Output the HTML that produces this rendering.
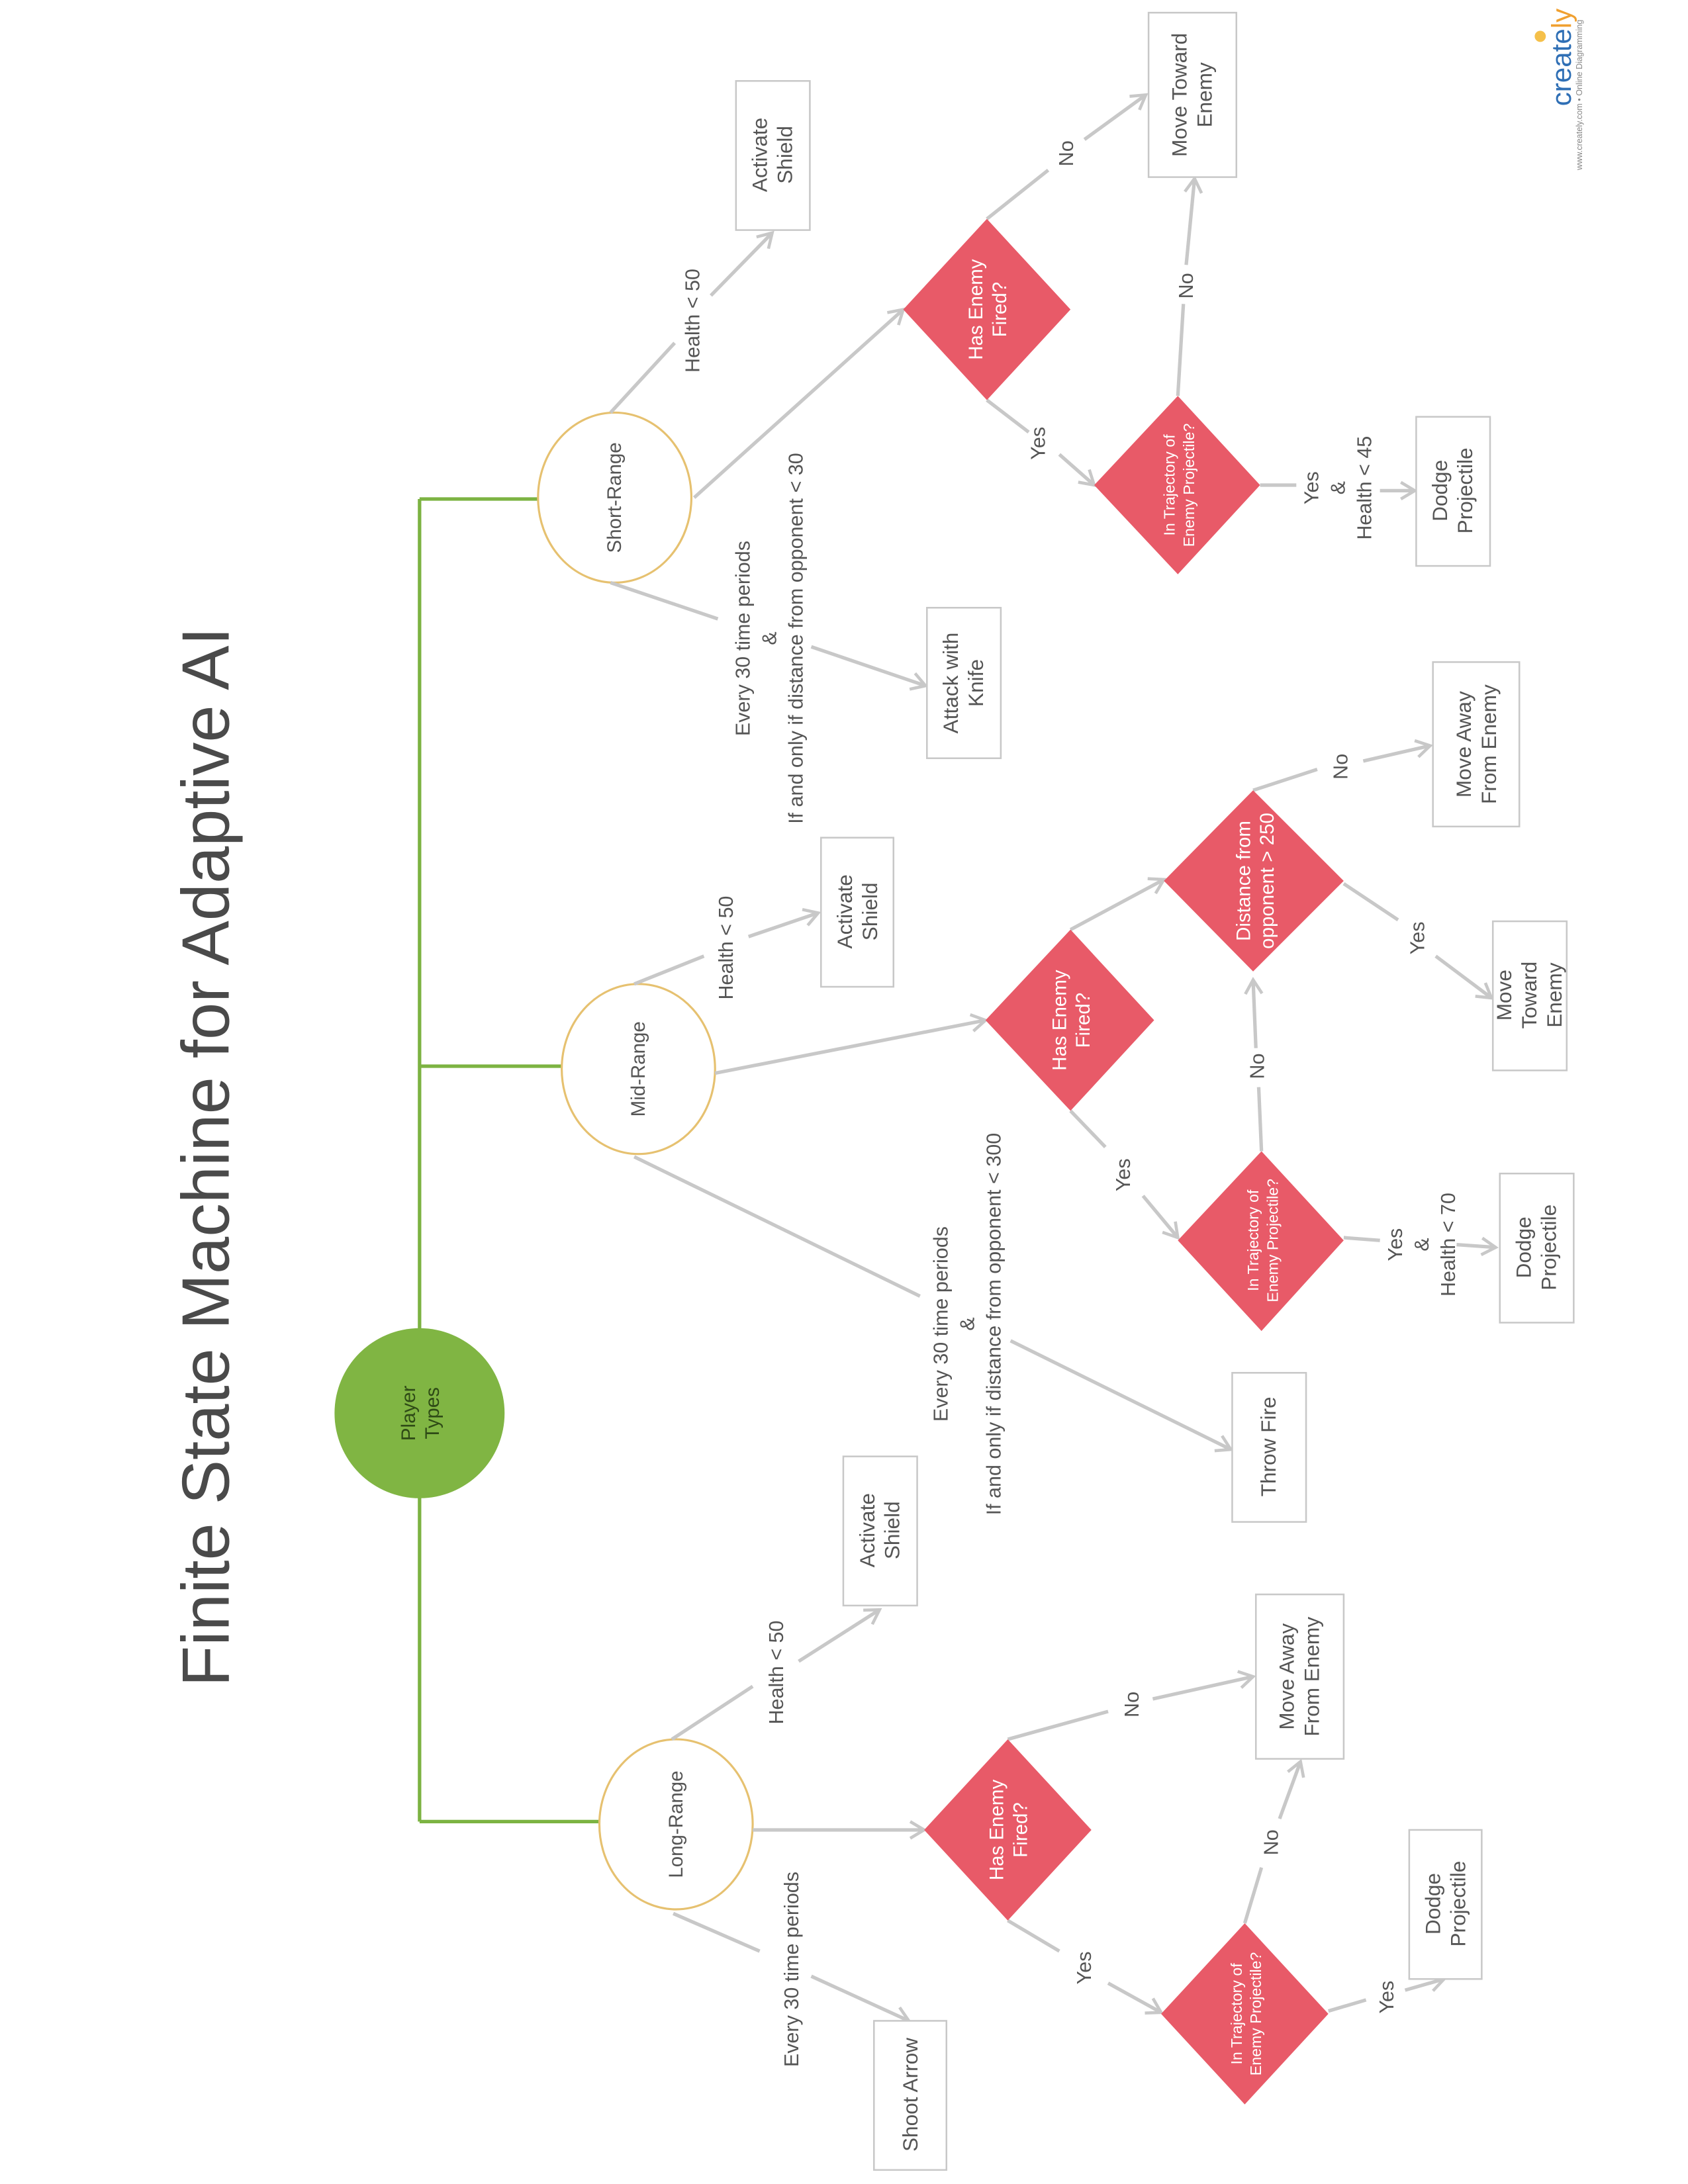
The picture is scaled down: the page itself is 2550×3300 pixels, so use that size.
<!DOCTYPE html>
<html><head><meta charset="utf-8"><style>
html,body{margin:0;padding:0;background:#fff}
svg{display:block}
text{font-family:"Liberation Sans",sans-serif}
</style></head><body>
<svg width="2550" height="3300" viewBox="0 0 1211 1567" xmlns="http://www.w3.org/2000/svg">
<defs>
<marker id="a" markerWidth="16" markerHeight="16" refX="12" refY="8" orient="auto" markerUnits="userSpaceOnUse">
<path d="M2,2 L12,8 L2,14" fill="none" stroke="#c8c8c8" stroke-width="2.2"/>
</marker>
</defs>
<rect width="1211" height="1567" fill="#fff"/>

<text transform="translate(148,830) rotate(-90)" text-anchor="middle" dominant-baseline="central" font-size="48" fill="#4a4a4a">Finite State Machine for Adaptive AI</text>

<text transform="translate(1120,41) rotate(-90)" text-anchor="middle" dominant-baseline="central" font-size="20" fill="#2f6fb5">create<tspan fill="#f0a030">ly</tspan></text>
<circle cx="1105" cy="26" r="4" fill="#f5c04a"/>
<text transform="translate(1133,68) rotate(-90)" text-anchor="middle" dominant-baseline="central" font-size="6" fill="#888">www.creately.com • Online Diagramming</text>

<g stroke="#7cb342" stroke-width="2.5" fill="none">
<path d="M301,358 L301,1307"/>
<path d="M301,358 L387,358"/>
<path d="M301,765 L403,765"/>
<path d="M301,1307 L430,1307"/>
</g>
<circle cx="301" cy="1014" r="61" fill="#80b543"/>
<text transform="translate(301,1014) rotate(-90)" text-anchor="middle" dominant-baseline="central" font-size="14" fill="#2e4a16"><tspan x="0" dy="-8">Player</tspan><tspan x="0" dy="17">Types</tspan></text>

<g fill="#fff" stroke="#e6c170" stroke-width="1.5">
<ellipse cx="441" cy="357" rx="55" ry="61"/>
<ellipse cx="458" cy="767" rx="55" ry="61"/>
<ellipse cx="485" cy="1309" rx="55" ry="61"/>
</g>
<g font-size="14" fill="#555" text-anchor="middle" dominant-baseline="central">
<text transform="translate(441,357) rotate(-90)">Short-Range</text>
<text transform="translate(458,767) rotate(-90)">Mid-Range</text>
<text transform="translate(485,1309) rotate(-90)">Long-Range</text>
</g>

<g stroke="#c8c8c8" stroke-width="2.5" fill="none">
<path d="M438,296 L484,246"/><path d="M510,212 L554,167" marker-end="url(#a)"/>
<path d="M498,357 L648,222" marker-end="url(#a)"/>
<path d="M708,157 L752,122"/><path d="M778,100 L822,68" marker-end="url(#a)"/>
<path d="M708,287 L738,310"/><path d="M760,326 L785,348" marker-end="url(#a)"/>
<path d="M845,284 L849,218"/><path d="M851,190 L857,128" marker-end="url(#a)"/>
<path d="M904,348 L930,348"/><path d="M990,352 L1015,352" marker-end="url(#a)"/>
<path d="M438,418 L515,444"/><path d="M582,464 L664,492" marker-end="url(#a)"/>
<path d="M455,706 L505,686"/><path d="M537,672 L587,655" marker-end="url(#a)"/>
<path d="M513,770 L707,732" marker-end="url(#a)"/>
<path d="M768,667 L835,631" marker-end="url(#a)"/>
<path d="M899,567 L945,552"/><path d="M978,546 L1026,535" marker-end="url(#a)"/>
<path d="M964,634 L1003,660"/><path d="M1030,686 L1070,716" marker-end="url(#a)"/>
<path d="M768,797 L793,823"/><path d="M820,858 L845,888" marker-end="url(#a)"/>
<path d="M905,826 L903,780"/><path d="M901,752 L899,703" marker-end="url(#a)"/>
<path d="M964,888 L990,890"/><path d="M1045,893 L1073,895" marker-end="url(#a)"/>
<path d="M455,830 L660,930"/><path d="M725,962 L883,1040" marker-end="url(#a)"/>
<path d="M482,1248 L540,1210"/><path d="M573,1192 L631,1155" marker-end="url(#a)"/>
<path d="M540,1313 L663,1313" marker-end="url(#a)"/>
<path d="M723,1248 L795,1228"/><path d="M827,1219 L899,1203" marker-end="url(#a)"/>
<path d="M723,1378 L760,1400"/><path d="M795,1423 L833,1444" marker-end="url(#a)"/>
<path d="M893,1380 L905,1340"/><path d="M918,1305 L933,1264" marker-end="url(#a)"/>
<path d="M953,1443 L980,1435"/><path d="M1008,1428 L1036,1420" marker-end="url(#a)"/>
<path d="M483,1373 L545,1400"/><path d="M582,1418 L652,1450" marker-end="url(#a)"/>
</g>

<g fill="#fff" stroke="#c8c8c8" stroke-width="1.2">
<rect x="528" y="58" width="53" height="107"/>
<rect x="824" y="9" width="63" height="118"/>
<rect x="1016" y="299" width="53" height="107"/>
<rect x="665" y="436" width="53" height="108"/>
<rect x="589" y="601" width="52" height="107"/>
<rect x="1028" y="475" width="62" height="118"/>
<rect x="1071" y="661" width="53" height="107"/>
<rect x="1076" y="842" width="53" height="107"/>
<rect x="884" y="985" width="53" height="107"/>
<rect x="605" y="1045" width="53" height="107"/>
<rect x="901" y="1144" width="63" height="118"/>
<rect x="1011" y="1313" width="52" height="107"/>
<rect x="627" y="1450" width="52" height="107"/>
</g>
<g font-size="15" fill="#555" text-anchor="middle" dominant-baseline="central">
<text transform="translate(554,111) rotate(-90)"><tspan x="0" dy="-9">Activate</tspan><tspan x="0" dy="18">Shield</tspan></text>
<text transform="translate(855,68) rotate(-90)"><tspan x="0" dy="-9">Move Toward</tspan><tspan x="0" dy="18">Enemy</tspan></text>
<text transform="translate(1042,352) rotate(-90)"><tspan x="0" dy="-9">Dodge</tspan><tspan x="0" dy="18">Projectile</tspan></text>
<text transform="translate(691,490) rotate(-90)"><tspan x="0" dy="-9">Attack with</tspan><tspan x="0" dy="18">Knife</tspan></text>
<text transform="translate(615,654) rotate(-90)"><tspan x="0" dy="-9">Activate</tspan><tspan x="0" dy="18">Shield</tspan></text>
<text transform="translate(1059,534) rotate(-90)"><tspan x="0" dy="-9">Move Away</tspan><tspan x="0" dy="18">From Enemy</tspan></text>
<text transform="translate(1097,714) rotate(-90)"><tspan x="0" dy="-18">Move</tspan><tspan x="0" dy="18">Toward</tspan><tspan x="0" dy="18">Enemy</tspan></text>
<text transform="translate(1102,895) rotate(-90)"><tspan x="0" dy="-9">Dodge</tspan><tspan x="0" dy="18">Projectile</tspan></text>
<text transform="translate(910,1038) rotate(-90)">Throw Fire</text>
<text transform="translate(631,1098) rotate(-90)"><tspan x="0" dy="-9">Activate</tspan><tspan x="0" dy="18">Shield</tspan></text>
<text transform="translate(932,1203) rotate(-90)"><tspan x="0" dy="-9">Move Away</tspan><tspan x="0" dy="18">From Enemy</tspan></text>
<text transform="translate(1037,1366) rotate(-90)"><tspan x="0" dy="-9">Dodge</tspan><tspan x="0" dy="18">Projectile</tspan></text>
<text transform="translate(653,1503) rotate(-90)">Shoot Arrow</text>
</g>

<g fill="#e85a68">
<path d="M648,222 L708,157 L768,222 L708,287Z"/>
<path d="M785,348 L845,284 L904,348 L845,412Z"/>
<path d="M707,732 L768,667 L828,732 L768,797Z"/>
<path d="M835,632 L899,567 L964,632 L899,697Z"/>
<path d="M845,890 L905,826 L964,890 L905,955Z"/>
<path d="M663,1313 L723,1248 L783,1313 L723,1378Z"/>
<path d="M833,1445 L893,1380 L953,1445 L893,1510Z"/>
</g>
<g fill="#fff" text-anchor="middle" dominant-baseline="central">
<text font-size="14" transform="translate(708,222) rotate(-90)"><tspan x="0" dy="-8">Has Enemy</tspan><tspan x="0" dy="17">Fired?</tspan></text>
<text font-size="11" transform="translate(846,348) rotate(-90)"><tspan x="0" dy="-7">In Trajectory of</tspan><tspan x="0" dy="14">Enemy Projectile?</tspan></text>
<text font-size="14" transform="translate(768,732) rotate(-90)"><tspan x="0" dy="-8">Has Enemy</tspan><tspan x="0" dy="17">Fired?</tspan></text>
<text font-size="14" transform="translate(900,632) rotate(-90)"><tspan x="0" dy="-8">Distance from</tspan><tspan x="0" dy="17">opponent &gt; 250</tspan></text>
<text font-size="11" transform="translate(906,890) rotate(-90)"><tspan x="0" dy="-7">In Trajectory of</tspan><tspan x="0" dy="14">Enemy Projectile?</tspan></text>
<text font-size="14" transform="translate(723,1313) rotate(-90)"><tspan x="0" dy="-8">Has Enemy</tspan><tspan x="0" dy="17">Fired?</tspan></text>
<text font-size="11" transform="translate(894,1445) rotate(-90)"><tspan x="0" dy="-7">In Trajectory of</tspan><tspan x="0" dy="14">Enemy Projectile?</tspan></text>
</g>

<g font-size="14.5" fill="#555" text-anchor="middle" dominant-baseline="central">
<text transform="translate(497,230) rotate(-90)">Health &lt; 50</text>
<text transform="translate(765,110) rotate(-90)">No</text>
<text transform="translate(745,318) rotate(-90)">Yes</text>
<text transform="translate(851,205) rotate(-90)">No</text>
<text transform="translate(960,350) rotate(-90)"><tspan x="0" dy="-19">Yes</tspan><tspan x="0" dy="19">&amp;</tspan><tspan x="0" dy="19">Health &lt; 45</tspan></text>
<text transform="translate(552,458) rotate(-90)"><tspan x="0" dy="-19">Every 30 time periods</tspan><tspan x="0" dy="19">&amp;</tspan><tspan x="0" dy="19">If and only if distance from opponent &lt; 30</tspan></text>
<text transform="translate(521,680) rotate(-90)">Health &lt; 50</text>
<text transform="translate(962,550) rotate(-90)">No</text>
<text transform="translate(1017,673) rotate(-90)">Yes</text>
<text transform="translate(806,843) rotate(-90)">Yes</text>
<text transform="translate(902,765) rotate(-90)">No</text>
<text transform="translate(1020,893) rotate(-90)"><tspan x="0" dy="-19">Yes</tspan><tspan x="0" dy="19">&amp;</tspan><tspan x="0" dy="19">Health &lt; 70</tspan></text>
<text transform="translate(694,950) rotate(-90)"><tspan x="0" dy="-19">Every 30 time periods</tspan><tspan x="0" dy="19">&amp;</tspan><tspan x="0" dy="19">If and only if distance from opponent &lt; 300</tspan></text>
<text transform="translate(557,1200) rotate(-90)">Health &lt; 50</text>
<text transform="translate(812,1223) rotate(-90)">No</text>
<text transform="translate(778,1412) rotate(-90)">Yes</text>
<text transform="translate(912,1322) rotate(-90)">No</text>
<text transform="translate(995,1433) rotate(-90)">Yes</text>
<text transform="translate(568,1413) rotate(-90)">Every 30 time periods</text>
</g>
</svg>
</body></html>
